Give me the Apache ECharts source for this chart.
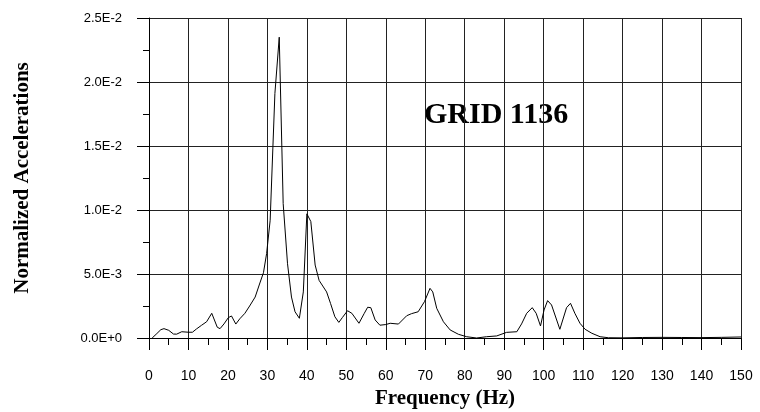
<!DOCTYPE html>
<html>
<head>
<meta charset="utf-8">
<script src="https://cdn.jsdelivr.net/npm/echarts@6/dist/echarts.min.js"></script>
<style>
html, body { margin: 0; padding: 0; background: #fff; }
#mainchart { width: 760px; height: 412px; }
</style>
</head>
<body>
<div id="mainchart"></div>
<script>
// frequency (Hz) and normalized acceleration
var freqHz = [0.8, 2, 3, 3.8, 5, 6.2, 7, 8.3, 10, 11, 12, 13.3, 14.6, 15.9, 17.3, 18, 19, 20.1, 20.9, 22,
	23, 24.3, 25.5, 26.9, 28.1, 29, 29.8, 30.7, 31.9, 33.0, 34.0, 35.1, 36.1, 37.0, 38.1, 39.1, 40.0, 41.0,
	42.1, 43.1, 45.0, 46, 47.1, 48.1, 49, 50.3, 51.4, 53.2, 54.5, 55.4, 56.2, 57.3, 58.5, 60, 61.1, 63.2,
	65.3, 66.5, 68.2, 69.8, 71.2, 71.9, 72.9, 74.6, 76.3, 78.4, 80.5, 83, 85.5, 88.1, 90.6, 93.2, 94.4,
	95.7, 97.1, 98.1, 99.2, 100.1, 101.0, 102.0, 104.1, 105.8, 106.8, 107.9, 109.2, 110.5, 112.2, 114.3,
	116.4, 120, 125, 130, 135, 140, 145, 150];
var accel = [0, 0.00035, 0.00065, 0.00073, 0.0006, 0.00031, 0.0003, 0.00049, 0.00045, 0.00045, 0.0007,
	0.00099, 0.00127, 0.00193, 0.00084, 0.00073, 0.0011, 0.00159, 0.00172, 0.00109,
	0.0015, 0.00193, 0.0025, 0.0032, 0.0043, 0.0051, 0.0066, 0.0092, 0.0191, 0.0235, 0.0105, 0.0058,
	0.0032, 0.00205, 0.00154, 0.0036, 0.0097, 0.0091,
	0.0057, 0.0045, 0.0036, 0.0027, 0.00166, 0.00122, 0.0016, 0.00213, 0.00193, 0.00115, 0.0019, 0.0024,
	0.00237, 0.00141, 0.001, 0.00105, 0.00115, 0.00109,
	0.00174, 0.0019, 0.00205, 0.00284, 0.00388, 0.0036, 0.00232, 0.00127, 0.00063, 0.00029, 0.0001, 0,
	0.0001, 0.00016, 0.00044, 0.00049, 0.0011,
	0.00193, 0.00237, 0.00193, 0.00094, 0.00219, 0.00292, 0.00258, 0.00068, 0.00237, 0.00271, 0.00193,
	0.00115, 0.00068, 0.00037, 0.0001,
	0.00002, 0.00001, 0.00004, 0.00005, 0.00004, 0.00003, 0.00005, 0.00008];
var chartLabel = 'GRID 1136';

function drawSpectrum() {
	var chart = echarts.init(document.getElementById('mainchart'));
	var pts = [];
	for (var i = 0; i < freqHz.length; i++) {
		pts.push([freqHz[i], accel[i]]);
	}
	var option = {
		animation : false,
		backgroundColor : '#fff',
		grid : {
			left : 149,
			right : 19,
			top : 18,
			bottom : 74,
			containLabel : false,
			outerBoundsMode : 'none'
		},
		graphic : [{
			type : 'text',
			left : 424,
			top : 100,
			style : {
				text : chartLabel,
				font : 'bold 30px "Liberation Serif", "Times New Roman", serif',
				fill : '#000'
			}
		}],
		xAxis : {
			type : 'value',
			min : 0,
			max : 150,
			interval : 10,
			name : 'Frequency (Hz)',
			nameLocation : 'middle',
			nameGap : 48,
			nameTextStyle : {
				fontFamily : '"Liberation Serif", serif',
				fontWeight : 'bold',
				fontSize : 21,
				color : '#000'
			},
			axisLine : { onZero : false, lineStyle : { color : '#000', width : 1 } },
			axisTick : { show : true, length : 12, lineStyle : { color : '#000' } },
			minorTick : { show : true, splitNumber : 2, length : 7, lineStyle : { color : '#000' } },
			axisLabel : {
				margin : 31,
				fontFamily : '"Liberation Sans", Arial, sans-serif',
				fontSize : 14,
				color : '#000'
			},
			splitLine : { show : true, lineStyle : { color : '#222', width : 1 } }
		},
		yAxis : {
			type : 'value',
			min : 0,
			max : 0.025,
			interval : 0.005,
			name : 'Normalized Accelerations',
			nameLocation : 'middle',
			nameGap : 116,
			nameTextStyle : {
				fontFamily : '"Liberation Serif", serif',
				fontWeight : 'bold',
				fontSize : 21,
				color : '#000'
			},
			axisLine : { show : true, lineStyle : { color : '#000', width : 1 } },
			axisTick : { show : true, length : 12, lineStyle : { color : '#000' } },
			minorTick : { show : true, splitNumber : 2, length : 6, lineStyle : { color : '#000' } },
			axisLabel : {
				margin : 27,
				fontFamily : '"Liberation Sans", Arial, sans-serif',
				fontSize : 13,
				color : '#000',
				formatter : function (v) {
					return v.toExponential(1).toUpperCase();
				}
			},
			splitLine : { show : true, lineStyle : { color : '#222', width : 1 } }
		},
		series : [{
			type : 'line',
			data : pts,
			showSymbol : false,
			symbol : 'none',
			smooth : false,
			lineStyle : { color : '#000', width : 1 }
		}]
	};
	chart.setOption(option);
}
drawSpectrum();
</script>
</body>
</html>
